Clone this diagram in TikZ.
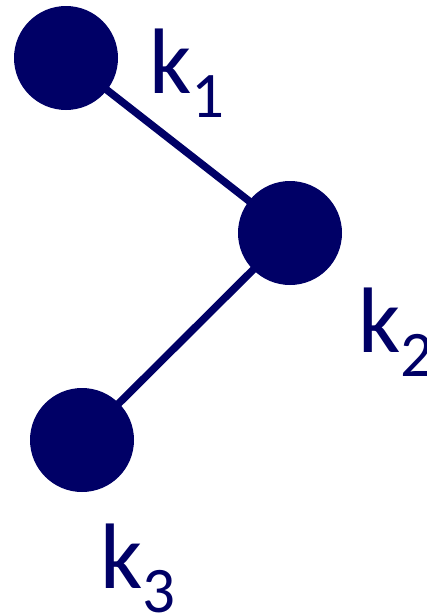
\documentclass[tikz,border=0pt]{standalone}
\usepackage{fontspec}
\setmainfont{Carlito}
\definecolor{navy}{HTML}{000066}
\newcommand{\klabel}[1]{\fontsize{93}{93}\selectfont k\kern0pt\raisebox{-24pt}{\fontsize{65}{65}\selectfont #1}}
\tikzset{
  dot/.style={circle, fill=navy, draw=none, minimum size=104pt, inner sep=0pt},
  link/.style={draw=navy, line width=7.5pt},
  lbl/.style={text=navy, anchor=base west, inner sep=0pt, outer sep=0pt}
}
\begin{document}
\begin{tikzpicture}[x=1pt,y=1pt]
\useasboundingbox (0,0) rectangle (427,-616);
\node[dot] (n1) at (66,-58) {};
\node[dot] (n2) at (290,-233) {};
\node[dot] (n3) at (82,-440) {};
\draw[link] (n1.center) -- (n2.center);
\draw[link] (n2.center) -- (n3.center);
\node[lbl] (l1) at (149,-93) {\klabel{1}};
\node[lbl] (l2) at (358,-352) {\klabel{2}};
\node[lbl] (l3) at (100,-588) {\klabel{3}};
\end{tikzpicture}
\end{document}
